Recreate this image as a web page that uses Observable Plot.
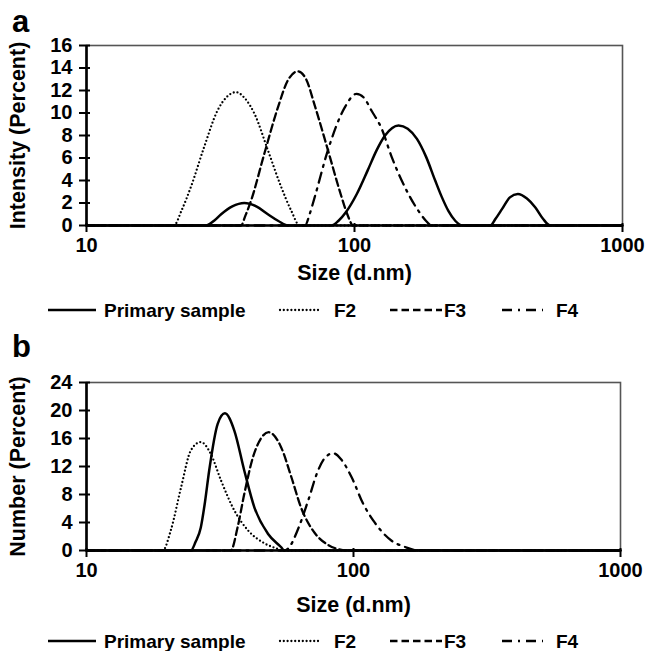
<!DOCTYPE html>
<html><head><meta charset="utf-8">
<script src="https://cdn.jsdelivr.net/npm/d3@7"></script>
<script src="https://cdn.jsdelivr.net/npm/@observablehq/plot@0.6"></script>
<style>
body{margin:0;background:#fff;}
#fig{position:relative;width:646px;height:651px;overflow:hidden;font-family:"Liberation Sans",Arial,sans-serif;font-weight:bold;color:#000;background:#fff;}
#fig > *{position:absolute;left:0;}
.letter{font-size:31px;line-height:31px;}
</style></head><body><div id="fig"></div>
<script>
const seriesNames = ["Primary sample", "F2", "F3", "F4"];
const xTicks = [10, 100, 1000];
const aYTicks = [0, 2, 4, 6, 8, 10, 12, 14, 16];
const bYTicks = [0, 4, 8, 12, 16, 20, 24];
const xLabel = "Size (d.nm)";

// Panel a: Intensity (Percent) vs size (d.nm)
const aPrimary = [[10,0],[27.9,0],[30,0.45],[31.8,1.0],[35,1.7],[38.8,2.0],[43,1.7],[47.5,1.0],[52,0.4],[56.4,0],[82,0],[87,0.4],[93,1.2],[102,2.8],[112,4.9],[121,6.7],[130,8.0],[146,8.9],[158,8.6],[171,7.7],[185,6.1],[200,4.0],[212,2.5],[224,1.3],[238,0.4],[252,0],[321,0],[336,0.6],[356,1.5],[380,2.5],[407,2.8],[440,2.4],[473,1.6],[505,0.6],[537,0],[1000,0]];
const aF2 = [[10,0],[21.2,0],[22.6,1.3],[24.5,3.4],[27.5,7.0],[30.8,10.2],[33.3,11.4],[36.1,11.85],[39,11.3],[42.4,9.9],[47.5,6.7],[53.3,3.4],[58.1,1.3],[62.4,0],[1000,0]];
const aF3 = [[10,0],[37.7,0],[39.2,0.9],[41.1,2.2],[46.1,6.4],[51.8,10.5],[56.4,12.9],[61.5,13.7],[66,13.0],[71,10.7],[79.6,6.7],[89.3,2.6],[94,1.0],[98.9,0],[1000,0]];
const aF4 = [[10,0],[65.4,0],[68,1.0],[71,2.5],[79.6,6.7],[92,10.5],[101.7,11.7],[108,11.4],[115.8,10.2],[126.3,8.6],[137.6,6.1],[158.9,2.8],[173.2,1.3],[185,0.4],[194,0],[1000,0]];

// Panel b: Number (Percent) vs size (d.nm)
const bPrimary = [[10,0],[24.6,0],[25.6,1.2],[26.8,3.3],[27.8,7.0],[28.8,11.4],[31.0,18.1],[33.0,19.6],[35.8,17.1],[39.0,11.4],[42.5,6.2],[47.8,2.4],[53.5,0.5],[55.1,0],[1000,0]];
const bF2 = [[10,0],[19.3,0],[20.7,2.9],[22.6,9.0],[24.6,14.3],[26.8,15.5],[29.2,13.8],[31.9,10.0],[35.8,5.7],[40.2,2.9],[46.5,1.0],[52.1,0.2],[53.5,0],[1000,0]];
const bF3 = [[10,0],[34.7,0],[36.8,3.3],[39.0,8.1],[42.0,13.3],[45,16.0],[48.1,16.9],[53.5,14.8],[58.5,10.5],[63.8,6.0],[71.6,2.5],[80.3,0.8],[90.2,0.1],[96,0],[1000,0]];
const bF4 = [[10,0],[55,0],[57,0.3],[61.9,3.0],[67.6,7.1],[73.6,11.4],[78,13.2],[83.9,13.9],[90,13.0],[98.3,10.5],[108.6,6.7],[118.5,4.3],[138.9,1.4],[156,0.5],[175,0],[1000,0]];

const styles = {
  "Primary sample": {strokeWidth: 2.5},
  "F2": {strokeWidth: 2.3, strokeDasharray: "0 3.8", strokeLinecap: "round"},
  "F3": {strokeWidth: 2.3, strokeDasharray: "7.5 4"},
  "F4": {strokeWidth: 2.3, strokeDasharray: "10 6 2 6"}
};
const FONT = "'Liberation Sans', Arial, sans-serif";

function toRows(arr, name) { return arr.map(([size, v]) => ({size, v, name})); }

function panel(cfg) {
  const lines = cfg.series.map((arr, i) =>
    Plot.line(toRows(arr, seriesNames[i]), {x: "size", y: "v", curve: "monotone-x", stroke: "#000", ...styles[seriesNames[i]]}));
  return Plot.plot({
    width: 646, height: cfg.height,
    marginLeft: 86, marginRight: cfg.marginRight, marginTop: cfg.marginTop, marginBottom: cfg.marginBottom,
    style: {fontFamily: FONT, fontWeight: "bold", fontSize: "20px", color: "#000", background: "transparent", overflow: "visible"},
    x: {type: "log", domain: [10, 1000]},
    y: {domain: [0, cfg.yTicks[cfg.yTicks.length - 1]]},
    marks: [
      Plot.frame({stroke: "#555", strokeWidth: 1.6}),
      ...lines,
      Plot.ruleY([0], {strokeWidth: 2.6}),
      Plot.ruleX([10], {strokeWidth: 2.6}),
      Plot.axisY(cfg.yTicks, {tickSize: 11, dx: 4, tickFormat: () => "", label: null, strokeWidth: 2}),
      Plot.axisY(cfg.yTicks, {tickSize: 0, tickPadding: 14, label: null, fontSize: 20}),
      Plot.axisX(xTicks, {tickSize: 9, dy: -2, tickFormat: () => "", label: null, strokeWidth: 2}),
      Plot.axisX(xTicks, {tickSize: 0, tickPadding: 12, tickFormat: d => String(d), label: null, fontSize: 20}),
      Plot.text([cfg.yLabel], {frameAnchor: "left", textAnchor: "middle", lineAnchor: "middle", rotate: -90, dx: -68, fontSize: 21.5, fontWeight: "bold"}),
      Plot.text([xLabel], {frameAnchor: "bottom", dy: cfg.xLabelDy, fontSize: 21.5, fontWeight: "bold"})
    ]
  });
}

function legend(top) {
  const ns = "http://www.w3.org/2000/svg";
  const svg = document.createElementNS(ns, "svg");
  svg.setAttribute("width", 646); svg.setAttribute("height", 24);
  svg.style.top = top + "px";
  svg.style.overflow = "visible";
  const items = [
    {name: seriesNames[0], x1: 48, x2: 96, tx: 104},
    {name: seriesNames[1], x1: 280, x2: 319, tx: 334},
    {name: seriesNames[2], x1: 390, x2: 442, tx: 444},
    {name: seriesNames[3], x1: 502, x2: 543, tx: 556}
  ];
  for (const it of items) {
    const st = styles[it.name];
    const l = document.createElementNS(ns, "line");
    l.setAttribute("x1", it.x1); l.setAttribute("x2", it.x2);
    l.setAttribute("y1", 12); l.setAttribute("y2", 12);
    l.setAttribute("stroke", "#000"); l.setAttribute("stroke-width", st.strokeWidth);
    if (st.strokeDasharray) l.setAttribute("stroke-dasharray", st.strokeDasharray);
    if (st.strokeLinecap) l.setAttribute("stroke-linecap", st.strokeLinecap);
    svg.appendChild(l);
    const t = document.createElementNS(ns, "text");
    t.setAttribute("x", it.tx); t.setAttribute("y", 12); t.setAttribute("dy", "0.35em");
    t.setAttribute("font-family", FONT); t.setAttribute("font-weight", "bold"); t.setAttribute("font-size", 19);
    t.textContent = it.name;
    svg.appendChild(t);
  }
  return svg;
}

const fig = document.getElementById("fig");

const la = document.createElement("div"); la.className = "letter"; la.textContent = "a";
la.style.left = "12px"; la.style.top = "6px";
const pa = panel({series: [aPrimary, aF2, aF3, aF4], yTicks: aYTicks, yLabel: "Intensity (Percent)",
  height: 290, marginTop: 45, marginBottom: 65, marginRight: 24, xLabelDy: 54});
pa.style.top = "0px";

const lb = document.createElement("div"); lb.className = "letter"; lb.textContent = "b";
lb.style.left = "12px"; lb.style.top = "331px";
const pb = panel({series: [bPrimary, bF2, bF3, bF4], yTicks: bYTicks, yLabel: "Number (Percent)",
  height: 300, marginTop: 52, marginBottom: 80, marginRight: 26, xLabelDy: 61});
pb.style.top = "330px";

fig.appendChild(pa);
fig.appendChild(pb);
fig.appendChild(la);
fig.appendChild(lb);
fig.appendChild(legend(298));
fig.appendChild(legend(629));
</script></body></html>
